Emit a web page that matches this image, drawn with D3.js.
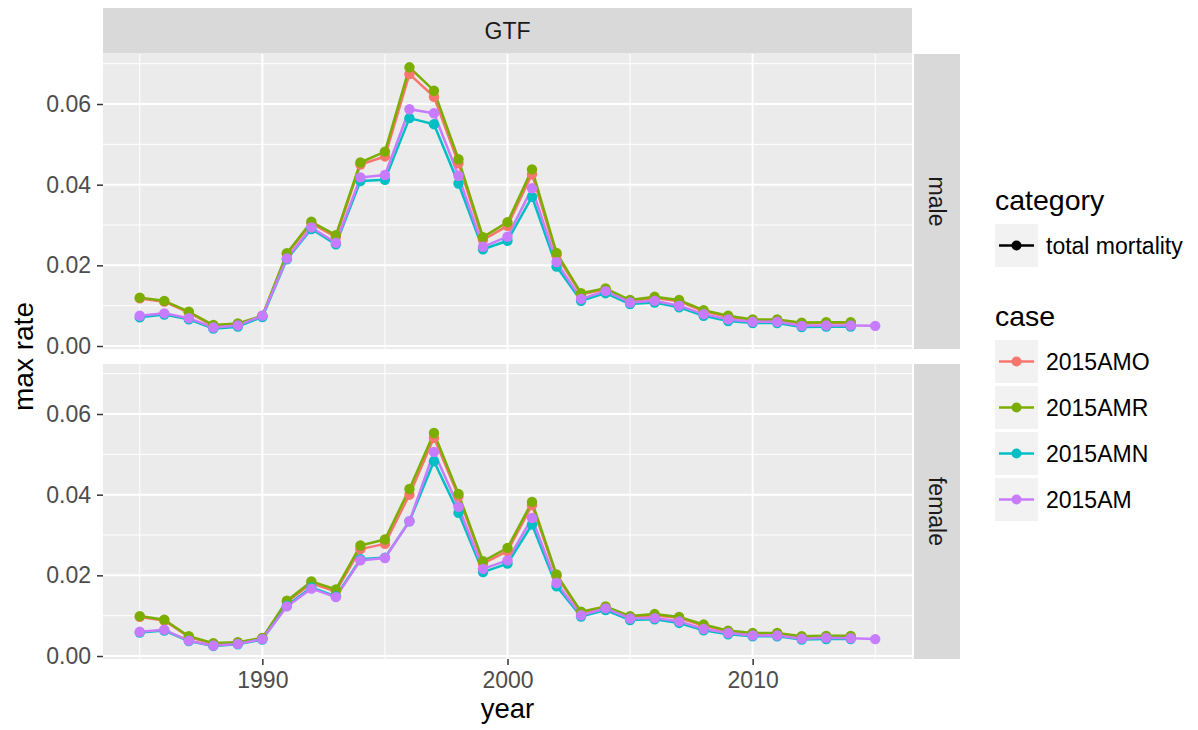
<!DOCTYPE html>
<html><head><meta charset="utf-8">
<script src="https://cdn.jsdelivr.net/npm/d3@7"></script>
<style>body{margin:0;background:#fff;} svg{display:block;font-family:"Liberation Sans",Arial,sans-serif;}</style>
</head><body>
<svg id="c" width="1198" height="730"></svg>
<script>
const years = d3.range(1985, 2016);
const cases = ["2015AMO", "2015AMR", "2015AMN", "2015AM"];
const colors = ["#F8766D", "#7CAE00", "#00BFC4", "#C77CFF"];
const panels = ["male", "female"];
const xTicks = [1990, 2000, 2010];
const yTicks = [0, 0.02, 0.04, 0.06];
const yTickLabels = ["0.00", "0.02", "0.04", "0.06"];

// male
const male_AMO = [0.0118,0.0110,0.0083,0.0050,0.0054,0.0074,0.0228,0.0304,0.0270,0.0450,0.0470,0.0674,0.0618,0.0453,0.0263,0.0298,0.0426,0.0225,0.0128,0.0140,0.0111,0.0119,0.0111,0.0086,0.0072,0.0064,0.0064,0.0056,0.0057,0.0057];
const male_AMR = [0.0120,0.0112,0.0085,0.0052,0.0056,0.0075,0.0230,0.0308,0.0275,0.0455,0.0482,0.0691,0.0633,0.0463,0.0270,0.0307,0.0438,0.0231,0.0131,0.0143,0.0114,0.0122,0.0114,0.0089,0.0075,0.0066,0.0066,0.0058,0.0059,0.0059];
const male_AMN = [0.0071,0.0078,0.0066,0.0043,0.0048,0.0072,0.0215,0.0290,0.0252,0.0409,0.0412,0.0565,0.0550,0.0403,0.0240,0.0261,0.0370,0.0197,0.0112,0.0131,0.0104,0.0108,0.0096,0.0075,0.0062,0.0057,0.0057,0.0047,0.0048,0.0048];
const male_AM  = [0.0075,0.0081,0.0069,0.0046,0.0051,0.0075,0.0217,0.0294,0.0256,0.0418,0.0424,0.0587,0.0577,0.0422,0.0246,0.0271,0.0391,0.0208,0.0117,0.0136,0.0108,0.0112,0.0100,0.0079,0.0066,0.0060,0.0060,0.0050,0.0051,0.0051,0.0050];
// female
const female_AMO = [0.0097,0.0088,0.0047,0.0030,0.0033,0.0044,0.0134,0.0180,0.0160,0.0265,0.0278,0.0400,0.0541,0.0396,0.0229,0.0260,0.0374,0.0198,0.0107,0.0121,0.0097,0.0101,0.0094,0.0075,0.0061,0.0055,0.0055,0.0047,0.0048,0.0048];
const female_AMR = [0.0099,0.0090,0.0049,0.0032,0.0034,0.0045,0.0137,0.0185,0.0165,0.0274,0.0289,0.0414,0.0553,0.0402,0.0235,0.0268,0.0382,0.0202,0.0110,0.0123,0.0099,0.0104,0.0097,0.0078,0.0063,0.0057,0.0057,0.0049,0.0050,0.0050];
const female_AMN = [0.0058,0.0063,0.0037,0.0025,0.0029,0.0041,0.0125,0.0170,0.0148,0.0240,0.0244,0.0334,0.0483,0.0355,0.0208,0.0229,0.0326,0.0173,0.0098,0.0114,0.0089,0.0091,0.0082,0.0064,0.0054,0.0049,0.0049,0.0041,0.0042,0.0042];
const female_AM  = [0.0060,0.0065,0.0038,0.0026,0.0030,0.0042,0.0123,0.0167,0.0146,0.0237,0.0243,0.0334,0.0506,0.0370,0.0216,0.0237,0.0342,0.0181,0.0101,0.0118,0.0093,0.0094,0.0086,0.0067,0.0057,0.0051,0.0051,0.0043,0.0045,0.0044,0.0042];

const seriesByPanel = {
  male: [male_AMO, male_AMR, male_AMN, male_AM],
  female: [female_AMO, female_AMR, female_AMN, female_AM]
};

const FONT = "Liberation Sans, Arial, sans-serif";
const svg = d3.select("#c");
const L = 103, R = 912;
const panelTops = [54, 364], PH = 295;
const x = d3.scaleLinear().domain([1983.5, 2016.5]).range([L, R]);
const y = d3.scaleLinear().domain([-0.00074, 0.0724]).range([PH, 0]);

// top strip
svg.append("rect").attr("x", L).attr("y", 8).attr("width", R - L).attr("height", 45.5).attr("fill", "#D9D9D9");
svg.append("text").attr("x", (L + R) / 2).attr("y", 31).attr("dy", "0.35em").attr("text-anchor", "middle")
  .attr("font-size", 23).attr("fill", "#1A1A1A").text("GTF");

const line = d3.line().x(d => x(d[0])).y(d => y(d[1]));

panels.forEach((p, pi) => {
  const g = svg.append("g").attr("transform", `translate(0,${panelTops[pi]})`);
  g.append("rect").attr("x", L).attr("y", 0).attr("width", R - L).attr("height", PH).attr("fill", "#EBEBEB");
  // minor grid
  [0.01, 0.03, 0.05, 0.07].forEach(v => g.append("line").attr("x1", L).attr("x2", R).attr("y1", y(v)).attr("y2", y(v)).attr("stroke", "#fff").attr("stroke-width", 1));
  [1985, 1995, 2005, 2015].forEach(v => g.append("line").attr("y1", 0).attr("y2", PH).attr("x1", x(v)).attr("x2", x(v)).attr("stroke", "#fff").attr("stroke-width", 1));
  // major grid
  yTicks.forEach(v => g.append("line").attr("x1", L).attr("x2", R).attr("y1", y(v)).attr("y2", y(v)).attr("stroke", "#fff").attr("stroke-width", 2));
  xTicks.forEach(v => g.append("line").attr("y1", 0).attr("y2", PH).attr("x1", x(v)).attr("x2", x(v)).attr("stroke", "#fff").attr("stroke-width", 2));

  // y axis
  const ya = d3.axisLeft(y).tickValues(yTicks).tickFormat((d, i) => yTickLabels[i]).tickSize(6).tickPadding(6);
  const yg = g.append("g").attr("transform", `translate(${L},0)`).call(ya);
  yg.select(".domain").remove();
  yg.selectAll("line").attr("stroke", "#333").attr("stroke-width", 1.5);
  yg.selectAll("text").attr("fill", "#4D4D4D").attr("font-size", 23).attr("font-family", FONT);

  // right strip
  g.append("rect").attr("x", R + 2).attr("y", 0).attr("width", 46).attr("height", PH).attr("fill", "#D9D9D9");
  g.append("text").attr("transform", `translate(${R + 25},${PH / 2}) rotate(90)`).attr("text-anchor", "middle").attr("dy", "0.35em")
    .attr("font-size", 23).attr("fill", "#1A1A1A").text(p);

  const series = seriesByPanel[p];
  series.forEach((vals, ci) => {
    const data = vals.map((v, i) => [years[i], v]);
    g.append("path").datum(data).attr("d", line).attr("fill", "none").attr("stroke", colors[ci]).attr("stroke-width", 2.5).attr("stroke-linejoin", "round");
  });
  series.forEach((vals, ci) => {
    const data = vals.map((v, i) => [years[i], v]);
    g.selectAll(null).data(data).enter().append("circle").attr("cx", d => x(d[0])).attr("cy", d => y(d[1])).attr("r", 5.2).attr("fill", colors[ci]);
  });
});

// x axis
const xa = d3.axisBottom(x).tickValues(xTicks).tickFormat(d3.format("d")).tickSize(6).tickPadding(7);
const xg = svg.append("g").attr("transform", `translate(0,${panelTops[1] + PH})`).call(xa);
xg.select(".domain").remove();
xg.selectAll("line").attr("stroke", "#333").attr("stroke-width", 1.5);
xg.selectAll("text").attr("fill", "#4D4D4D").attr("font-size", 23).attr("font-family", FONT);

// axis titles
svg.append("text").attr("x", (L + R) / 2).attr("y", 718).attr("text-anchor", "middle").attr("font-size", 27.5).attr("fill", "#000").text("year");
svg.append("text").attr("transform", `translate(33,${(panelTops[0] + panelTops[1] + PH) / 2}) rotate(-90)`).attr("text-anchor", "middle")
  .attr("font-size", 28).attr("fill", "#000").text("max rate");

// legend
const lx = 995;
svg.append("text").attr("x", lx).attr("y", 210).attr("font-size", 28.5).attr("fill", "#000").text("category");
const k0 = svg.append("g").attr("transform", `translate(${lx},224)`);
k0.append("rect").attr("width", 43).attr("height", 43).attr("fill", "#F2F2F2");
k0.append("line").attr("x1", 4).attr("x2", 39).attr("y1", 21.5).attr("y2", 21.5).attr("stroke", "#000").attr("stroke-width", 2.6);
k0.append("circle").attr("cx", 21.5).attr("cy", 21.5).attr("r", 5).attr("fill", "#000");
k0.append("text").attr("x", 51).attr("y", 21.5).attr("dy", "0.35em").attr("font-size", 23).attr("fill", "#000").text("total mortality");

svg.append("text").attr("x", lx).attr("y", 326).attr("font-size", 28.5).attr("fill", "#000").text("case");
cases.forEach((c, i) => {
  const k = svg.append("g").attr("transform", `translate(${lx},${340 + i * 46})`);
  k.append("rect").attr("width", 43).attr("height", 43).attr("fill", "#F2F2F2");
  k.append("line").attr("x1", 4).attr("x2", 39).attr("y1", 21.5).attr("y2", 21.5).attr("stroke", colors[i]).attr("stroke-width", 2.6);
  k.append("circle").attr("cx", 21.5).attr("cy", 21.5).attr("r", 5).attr("fill", colors[i]);
  k.append("text").attr("x", 51).attr("y", 21.5).attr("dy", "0.35em").attr("font-size", 23).attr("fill", "#000").text(c);
});
</script>
</body></html>
